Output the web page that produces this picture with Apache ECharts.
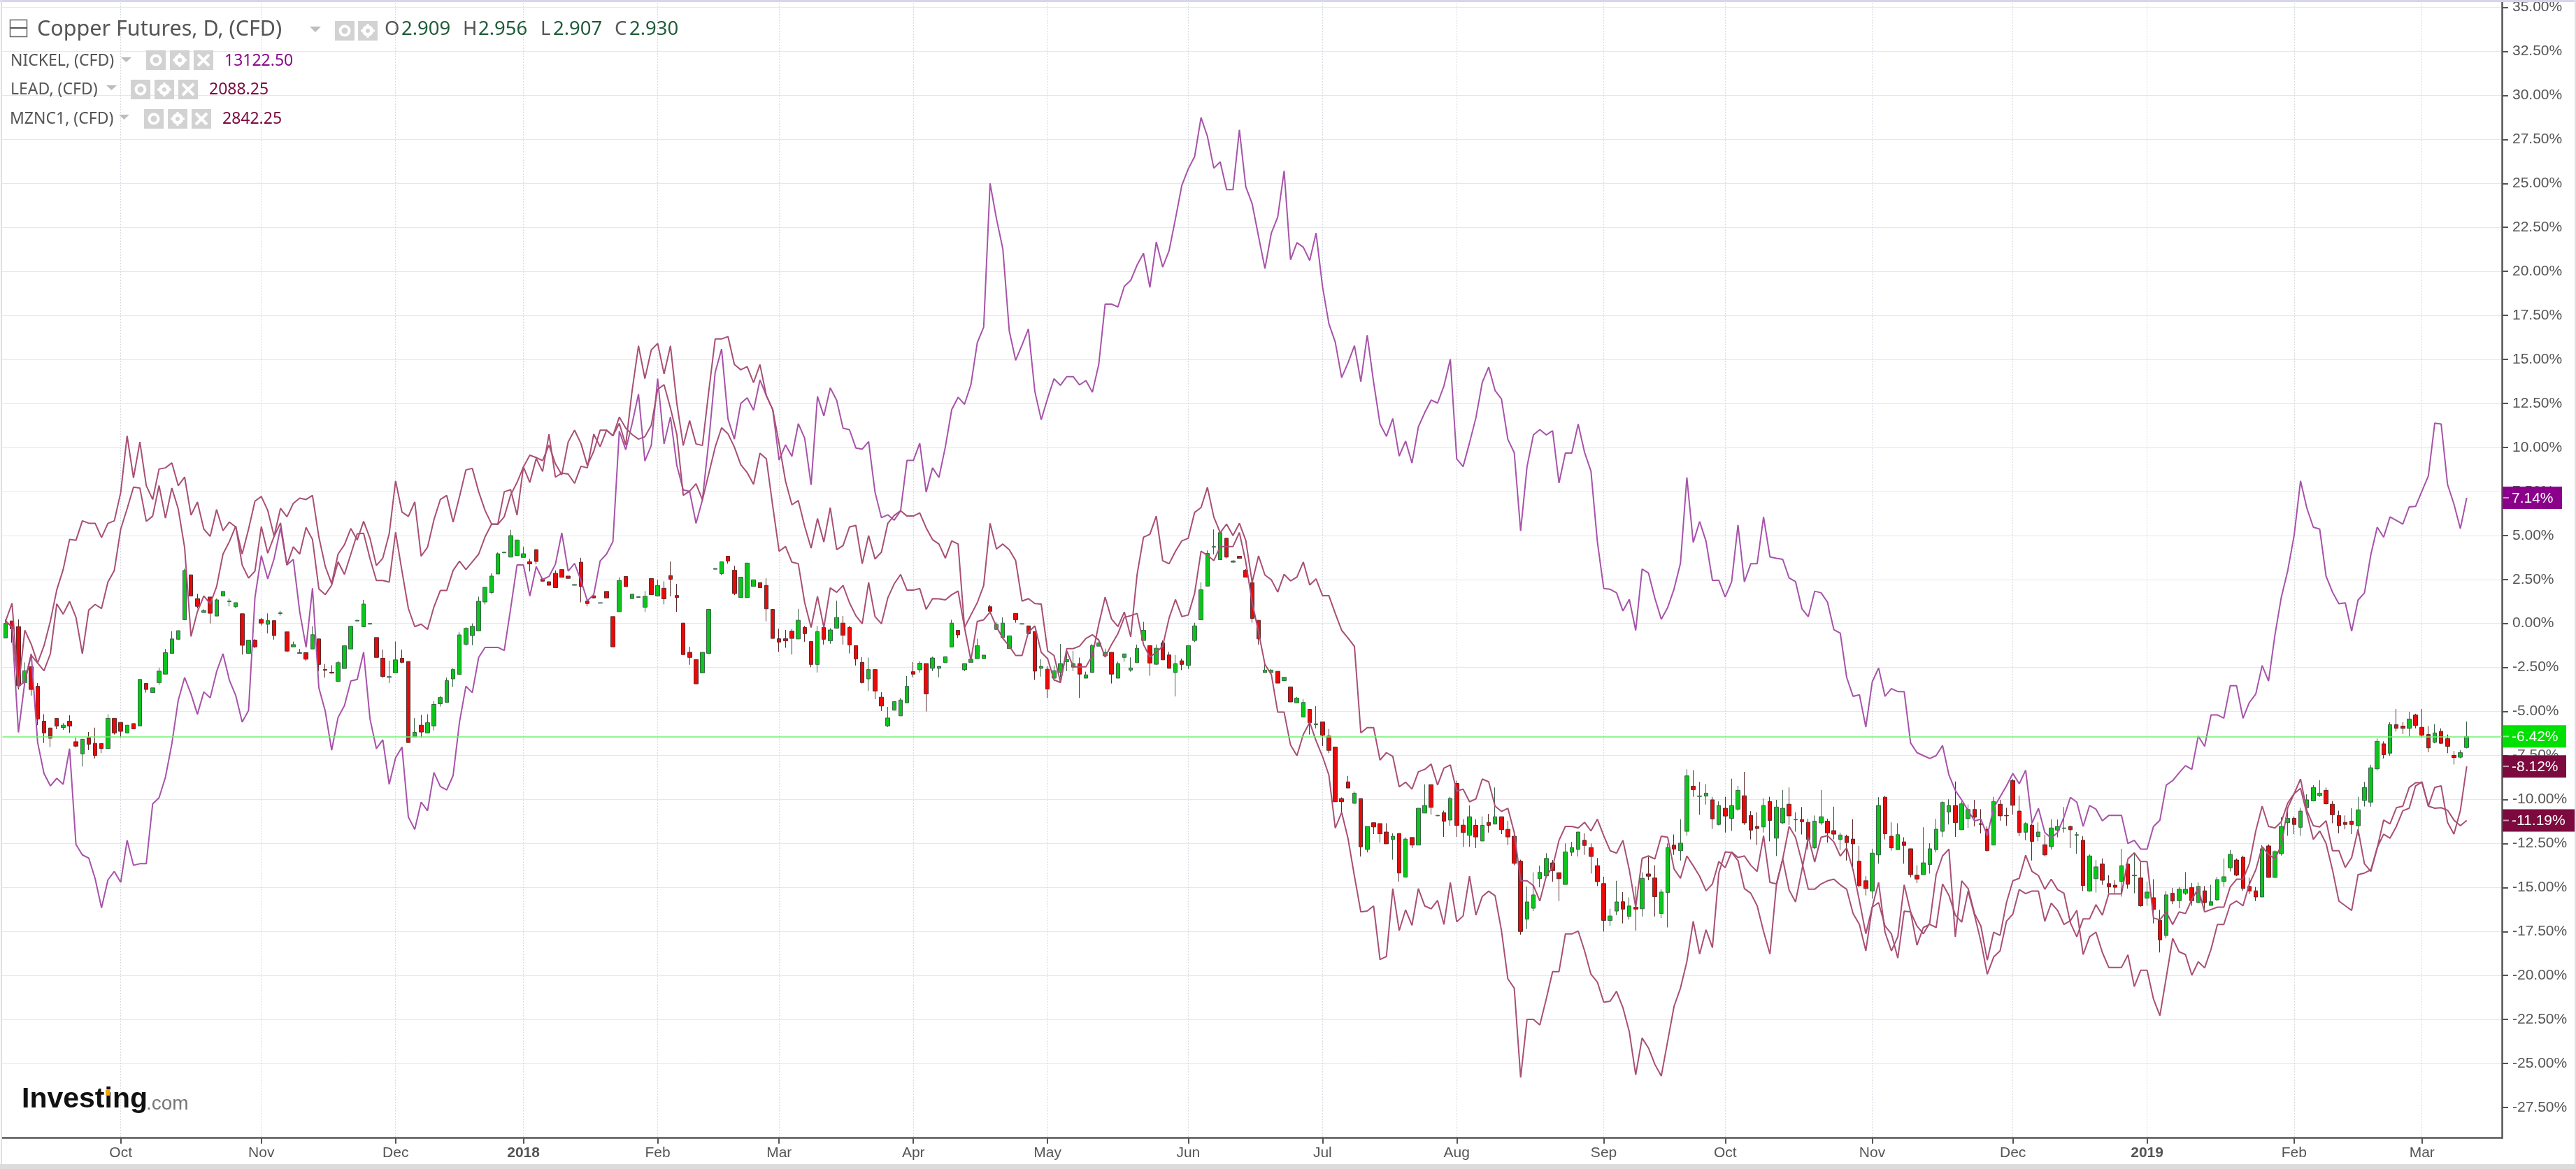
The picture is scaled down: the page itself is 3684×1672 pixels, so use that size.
<!DOCTYPE html>
<html><head><meta charset="utf-8">
<style>html,body{margin:0;padding:0;background:#fff}#c{width:3684px;height:1672px}</style>
<script src="https://cdn.jsdelivr.net/npm/echarts@6/dist/echarts.min.js"></script>
</head><body><div id="c"></div>
<script>
const monthLabels=['Oct','Nov','Dec','2018','Feb','Mar','Apr','May','Jun','Jul','Aug','Sep','Oct','Nov','Dec','2019','Feb','Mar'];
const monthBars=[18,40,61,81,102,121,142,163,185,206,227,250,269,292,314,335,358,378];
const slotCount=391;
const tickValues=[-27.5,-25,-22.5,-20,-17.5,-15,-12.5,-10,-7.5,-5,-2.5,0,2.5,5,7.5,10,12.5,15,17.5,20,22.5,25,27.5,30,32.5,35];
const lastCopper=-6.42,lastNickel=7.14,lastLead=-8.12,lastZinc=-11.19;
// each row: open, close, low, high in percent
const copper=[
[-.83,0,-.83,.23],[.14,-.30,-1.10,.14],[-.18,-3.54,-3.75,.23],[-3.36,-2.69,-3.39,-2.21],[-2.46,-3.75,-4.10,-2.46],[-3.57,-5.43,-5.78,-3.39],[-5.55,-6.22,-6.79,-5.16],[-5.94,-6.52,-7.02,-5.94],[-5.39,-5.83,-6.01,-5.39],[-5.91,-5.78,-6.05,-5.66],
[-5.55,-5.83,-6.22,-5.22],[-6.72,-6.97,-7.04,-6.49],[-7.41,-6.58,-8.13,-6.58],[-6.49,-6.86,-7.20,-6.17],[-6.81,-7.50,-7.67,-5.92],[-6.82,-7.11,-7.37,-6.82],[-7.11,-5.39,-7.11,-5.16],[-5.39,-6.22,-6.31,-5.39],[-5.62,-6.13,-6.49,-5.62],[-6.22,-5.78,-6.22,-5.78],
[-5.69,-5.99,-5.99,-5.69],[-5.82,-3.18,-5.82,-3.18],[-3.41,-3.75,-3.93,-3.41],[-3.93,-3.66,-3.93,-3.66],[-3.36,-2.71,-3.48,-2.51],[-2.88,-1.66,-2.88,-1.45],[-1.70,-.88,-1.70,-.44],[-.90,-.41,-.90,-.41],[.21,3.01,.21,3.11],[2.76,1.56,1.56,2.76],
[1.41,.97,.85,1.68],[.62,.73,.62,.81],[1.50,.58,0,1.50],[.42,1.34,.42,1.41],[1.56,1.82,1.56,1.82],[1.24,1.27,.97,1.43],[.95,1.18,.88,1.18],[.55,-1.24,-1.77,.55],[-1.70,-.95,-1.70,-.95],[-.95,-1.33,-1.40,-.88],
[.23,.02,-.12,.32],[-.05,.16,-.57,.57],[.16,-.69,-.92,.16],[.56,.60,.44,.72],[-.48,-1.57,-1.63,-.48],[-1.33,-1.20,-1.33,-1.03],[-1.70,-1.66,-1.70,-1.45],[-1.66,-2.03,-2.12,-1.66],[-1.45,-.64,-1.45,-.16],[-.88,-2.33,-2.72,-.88],
[-2.61,-2.66,-3.08,-2.30],[-2.77,-2.82,-2.85,-2.37],[-3.29,-2.23,-3.29,-2.12],[-2.56,-1.27,-2.56,-1.27],[-1.45,-.16,-1.45,-.16],[.14,.18,.14,.18],[-.19,1.10,-.19,1.34],[-.04,0,-.04,0],[-.80,-1.93,-1.93,-.80],[-1.98,-3.01,-3.08,-1.49],
[-3.06,-3.02,-3.39,-2.12],[-2.81,-2.07,-2.81,-1.03],[-1.98,-2.21,-2.26,-1.49],[-2.16,-6.77,-6.77,-2.16],[-6.45,-6.19,-6.45,-5.38],[-5.78,-6.17,-6.49,-5.20],[-6.22,-5.64,-6.22,-5.16],[-5.82,-4.60,-6.08,-4.42],[-4.56,-4.21,-4.72,-4.12],[-4.49,-3.25,-4.49,-3.08],
[-3.15,-2.62,-3.61,-2.55],[-2.90,-.65,-2.90,-.48],[-1.18,-.28,-1.27,-.21],[-.69,-.16,-1.24,0],[-.42,1.26,-.42,1.52],[1.22,2.05,1.08,2.05],[1.75,2.69,1.70,2.85],[2.81,3.96,2.81,4.03],[4.01,4.05,4.01,4.05],[3.77,4.99,3.77,5.32],
[3.85,4.74,3.85,4.74],[3.75,3.96,3.75,4.35],[3.50,3.38,2.95,3.66],[4.19,3.52,3.36,4.24],[2.53,2.40,2.40,2.53],[2.37,2.17,2.17,2.37],[2.85,2.03,2.03,3.01],[3.06,2.62,2.62,3.06],[2.69,2.56,2.56,2.69],[2.17,2.21,2.17,2.21],
[3.48,2.09,1.20,3.73],[1.27,1.13,.97,1.27],[1.57,1.45,1.45,1.57],[1.15,1.18,1.15,1.18],[1.82,1.45,1.45,1.82],[.39,-1.33,-1.33,.39],[.67,2.44,.67,2.62],[2.67,2.09,2.09,2.67],
[1.41,1.66,1.41,1.66],[1.48,1.52,1.48,1.52],[.92,1.54,.65,1.84],[2.55,1.63,1.63,2.55],[1.56,2.16,1.56,2.48],[2.00,1.40,1.08,2.39],[2.72,2.51,1.54,3.52],[1.59,1.47,.65,2.25],[.02,-1.77,-1.77,.02],[-1.64,-1.93,-2.35,-1.33],
[-2.05,-3.43,-3.43,-2.05],[-2.81,-1.64,-2.81,-1.64],[-1.70,.80,-1.70,.80],[3.08,3.12,3.08,3.12],[2.83,3.50,2.74,3.50],[3.82,3.54,3.39,3.82],[3.02,1.70,1.61,3.27],[1.47,2.63,1.47,2.63],[1.47,3.43,1.47,3.43],[2.10,2.48,2.10,2.48],
[2.32,2.03,2.03,2.32],[2.16,.83,.12,2.56],[.80,-.85,-.85,.80],[-.87,-1.06,-1.61,-.30],[-.87,-.99,-1.38,-.37],[-.44,-.85,-1.77,-.32],[-.88,.18,-.88,.83],[-.23,-.58,-1.04,-.14],[-1.03,-2.33,-2.49,-1.03],[-2.33,-.46,-2.79,-.14],
[-.23,-.90,-1.20,-.23],[-.99,-.37,-1.15,-.27],[-.27,.34,-.27,1.29],[.02,-.67,-1.20,.42],[-.23,-1.22,-1.70,-.14],[-1.26,-2.02,-2.39,-1.26],[-2.21,-3.36,-3.41,-1.91],[-3.15,-2.62,-3.84,-1.94],[-2.62,-3.84,-4.30,-2.62],[-4.19,-4.69,-4.97,-3.91],
[-5.82,-5.37,-5.89,-4.74],[-4.93,-4.44,-4.93,-4.44],[-5.25,-4.35,-5.25,-4.24],[-4.51,-3.57,-4.51,-2.99],[-2.74,-2.88,-3.06,-2.19],[-2.63,-2.26,-2.79,-2.14],[-2.28,-4.00,-5.00,-2.28],[-2.55,-1.96,-2.71,-1.89],[-2.55,-2.44,-3.06,-2.44],[-2.23,-1.89,-2.23,-1.89],
[-1.34,.02,-1.34,.21],[-.39,-.65,-.83,-.39],[-2.63,-2.28,-2.71,-2.28],[-2.21,-2.03,-2.21,-2.03],[-2.00,-1.26,-2.00,-.87],[-2.00,-1.80,-2.00,-1.80],[.95,.69,.69,1.06],[-.34,-.05,-.34,.09],[-.81,.02,-.81,.34],[-1.43,-.71,-1.43,-.71],
[.57,.21,.04,.57],[-.04,-.01,-.04,-.01],[-.14,-.58,-.58,-.14],[-.46,-2.71,-3.20,-.46],[-2.55,-2.44,-3.02,-2.03],[-2.60,-3.73,-4.23,-2.44],[-3.11,-2.69,-3.27,-2.39],[-2.78,-2.28,-3.06,-1.17],[-2.17,-2.05,-2.71,-1.52],[-2.48,-2.28,-2.71,-1.56],
[-2.28,-2.88,-4.23,-1.94],[-3.11,-2.92,-3.11,-2.74],[-2.79,-1.26,-2.79,-1.17],[-1.29,-1.11,-1.29,-.90],[-1.84,-1.64,-1.84,-1.43],[-1.64,-2.88,-3.41,-1.64],[-3.11,-2.28,-3.11,-2.17],[-1.93,-1.73,-2.17,-1.73],[-2.65,-2.53,-2.74,-1.93],[-2.23,-1.41,-2.23,-1.20],
[-.97,-.39,-.97,.09],[-1.26,-2.25,-2.97,-1.26],[-2.32,-1.41,-2.35,-1.20],[-1.10,-2.07,-2.07,-.97],[-1.79,-2.55,-2.55,-1.61],[-2.79,-2.28,-4.15,-1.79],[-2.12,-2.33,-2.65,-2.00],[-2.39,-1.26,-2.58,-1.26],[-.97,-.14,-1.06,.04],[.21,1.91,.21,2.33],
[2.12,3.98,2.12,4.15],[4.33,4.37,3.92,5.34],[3.62,5.16,3.62,5.16],[4.84,3.77,3.70,4.84],[3.48,3.55,3.45,3.60],[3.82,3.70,3.70,3.82],[3.02,2.63,2.63,3.09],[2.32,.28,.04,2.32],[.18,-.88,-1.20,.18],
[-2.79,-2.65,-2.79,-2.16],[-2.79,-2.65,-2.79,-2.58],[-2.72,-3.39,-3.39,-2.72],[-3.25,-3.06,-3.25,-3.06],[-3.61,-4.46,-4.46,-3.61],[-4.51,-4.24,-4.51,-4.17],[-5.32,-4.49,-5.32,-4.31],[-4.88,-5.64,-6.31,-4.88],[-5.75,-5.70,-5.96,-4.70],[-5.59,-6.35,-6.97,-5.59],
[-6.40,-7.21,-7.37,-5.99],[-7.02,-10.13,-10.13,-7.02],[-9.95,-10.13,-10.73,-9.88],[-9.00,-9.35,-9.35,-8.66],[-10.22,-9.64,-10.22,-9.55],[-9.95,-12.69,-13.24,-9.95],[-12.84,-11.53,-13.01,-11.53],[-11.32,-11.56,-11.97,-11.32],[-11.37,-11.95,-12.45,-11.37],[-11.85,-12.52,-12.52,-11.35],
[-12.27,-12.09,-13.42,-11.92],[-11.93,-14.18,-14.67,-11.93],[-14.41,-12.25,-14.41,-12.15],[-12.16,-12.59,-12.76,-12.16],[-12.59,-10.50,-12.59,-10.50],[-10.77,-10.34,-10.77,-9.14],[-9.16,-10.45,-10.86,-9.16],[-10.93,-10.90,-10.93,-10.90],[-10.75,-11.24,-12.13,-10.64],[-11.17,-9.94,-11.49,-9.85],
[-9.09,-11.47,-12.13,-8.93],[-11.46,-11.88,-12.69,-11.12],[-12.04,-10.98,-12.69,-10.34],[-11.47,-12.13,-12.76,-11.12],[-12.36,-11.47,-12.36,-10.96],[-11.30,-11.47,-11.88,-10.82],[-11.40,-10.98,-11.40,-9.32],[-10.98,-11.72,-11.97,-10.98],[-11.70,-12.13,-12.59,-11.21],[-12.09,-13.63,-13.74,-11.79],
[-13.51,-17.50,-17.68,-13.42],[-16.80,-15.82,-17.36,-14.94],[-16.18,-15.42,-16.34,-14.14],[-14.50,-14.14,-14.99,-13.76],[-14.34,-13.35,-14.44,-13.05],[-13.60,-14.04,-14.67,-13.44],[-14.16,-14.50,-15.77,-14.16],[-14.83,-12.98,-14.83,-12.50],[-13.00,-12.73,-13.21,-12.41],[-12.84,-11.85,-13.24,-11.85],
[-12.32,-12.61,-13.15,-11.92],[-12.73,-13.24,-14.21,-12.50],[-13.76,-14.67,-14.92,-13.33],[-14.78,-16.87,-17.50,-14.39],[-16.87,-16.62,-17.19,-16.21],[-16.34,-15.82,-16.57,-14.62],[-15.81,-16.23,-17.04,-15.26],[-16.64,-16.05,-16.83,-15.56],[-16.12,-16.23,-17.45,-14.94],[-16.21,-14.48,-16.65,-14.14],
[-14.23,-14.36,-14.59,-13.26],[-14.46,-15.52,-16.65,-13.74],[-16.48,-15.26,-16.74,-15.10],[-15.29,-12.73,-17.27,-12.50],[-12.59,-12.82,-13.15,-11.99],[-12.91,-12.48,-13.47,-11.12],[-11.81,-8.66,-12.06,-8.29],[-9.25,-9.44,-9.85,-8.34],[-9.83,-9.80,-10.87,-9.00],[-9.81,-9.64,-10.29,-9.14],
[-10.02,-11.10,-11.67,-9.85],[-11.42,-10.34,-11.47,-10.11],[-10.50,-10.94,-11.88,-9.85],[-11.08,-10.34,-11.79,-8.82],[-10.55,-9.48,-10.64,-9.23],[-9.79,-11.33,-11.44,-8.43],[-10.91,-11.74,-12.27,-10.66],[-11.53,-11.65,-12.59,-10.73],[-11.56,-10.34,-11.88,-9.94],[-10.11,-11.19,-12.38,-9.85],
[-12.20,-10.43,-13.21,-10.02],[-11.33,-10.50,-11.39,-9.46],[-10.27,-10.93,-11.44,-9.32],[-11.16,-11.13,-11.83,-10.73],[-11.14,-11.26,-11.99,-10.43],[-11.30,-12.27,-12.85,-11.09],[-12.75,-11.23,-12.82,-10.91],[-11.33,-10.98,-11.44,-9.46],[-11.23,-11.90,-12.45,-11.09],[-11.77,-11.97,-12.27,-10.41],
[-12.27,-12.02,-12.87,-11.88],[-12.09,-12.45,-13.47,-12.00],[-12.25,-12.52,-14.04,-11.12],[-13.51,-14.90,-14.99,-12.64],[-14.62,-15.06,-15.45,-14.36],[-15.20,-13.05,-15.63,-12.80],[-13.15,-10.34,-13.65,-9.87],[-9.87,-11.95,-12.27,-9.79],
[-12.09,-12.75,-12.91,-11.30],[-12.85,-12.00,-12.85,-11.35],[-12.41,-12.61,-13.65,-12.15],[-12.80,-14.27,-14.43,-12.80],[-14.30,-14.52,-14.75,-13.74],[-14.27,-13.60,-14.27,-11.58],[-13.70,-12.80,-14.21,-12.48],[-12.85,-11.69,-13.01,-11.10],[-11.81,-10.17,-12.13,-10.11],[-10.71,-10.34,-11.42,-9.99],
[-10.34,-11.32,-12.13,-8.98],[-11.72,-10.25,-11.72,-10.11],[-11.09,-10.57,-11.62,-10.29],[-10.57,-11.01,-11.53,-10.02],[-11.37,-11.42,-11.93,-10.55],[-11.69,-12.91,-12.94,-11.53],[-12.59,-10.11,-12.59,-9.85],[-10.27,-10.93,-11.21,-10.02],[-10.91,-10.93,-11.49,-10.47],[-8.93,-10.33,-10.86,-8.84],
[-10.66,-11.88,-12.09,-9.78],[-11.86,-11.37,-12.31,-11.30],[-11.46,-12.38,-13.47,-11.37],[-12.11,-11.85,-12.38,-11.30],[-12.57,-13.15,-13.23,-12.00],[-12.68,-11.62,-12.85,-11.12],[-11.74,-11.53,-12.15,-11.14],[-11.65,-11.62,-11.88,-10.43],[-11.53,-11.72,-12.76,-11.49],[-12.04,-12.00,-13.08,-11.85],
[-12.32,-14.89,-15.20,-12.09],[-15.20,-13.21,-15.24,-13.12],[-14.50,-13.83,-15.29,-13.44],[-13.67,-14.59,-14.85,-13.35],[-14.78,-14.97,-15.33,-14.30],[-14.87,-14.99,-15.33,-14.59],[-14.66,-13.76,-15.52,-12.80],[-13.67,-14.82,-15.06,-13.56],[-14.34,-14.30,-15.33,-13.05],[-14.46,-16.04,-16.09,-13.56],
[-15.61,-15.26,-16.04,-14.67],[-15.58,-16.25,-17.04,-14.53],[-16.87,-17.98,-18.69,-16.27],[-17.73,-15.42,-17.89,-15.20],[-15.33,-15.77,-15.95,-15.03],[-15.75,-15.10,-16.18,-14.98],[-15.33,-15.10,-15.42,-14.13],[-15.01,-15.75,-16.04,-14.74],[-15.86,-14.94,-15.86,-14.71],[-15.19,-15.86,-16.39,-14.92],
[-16.02,-15.81,-16.02,-14.85],[-15.70,-14.55,-15.77,-14.39],[-14.66,-14.39,-14.97,-13.35],[-13.88,-13.12,-14.09,-12.87],[-13.44,-14.30,-14.36,-13.35],[-13.28,-15.06,-15.20,-13.19],[-14.94,-15.20,-15.38,-14.44],[-15.19,-15.54,-15.77,-14.97],[-15.54,-12.80,-15.54,-12.59],[-12.64,-14.43,-14.43,-12.55],
[-14.43,-12.96,-14.43,-12.89],[-13.08,-11.53,-13.19,-11.00],[-11.32,-11.07,-12.06,-10.64],[-11.07,-11.42,-11.97,-10.96],[-11.58,-10.66,-12.06,-10.47],[-10.47,-10.02,-10.54,-9.71],[-10.08,-9.32,-10.11,-9.18],[-9.78,-9.64,-9.85,-8.91],[-9.48,-10.24,-10.29,-9.32],[-10.27,-10.87,-11.35,-10.09],
[-10.91,-11.49,-11.92,-10.64],[-11.30,-11.42,-11.70,-10.91],[-11.23,-11.42,-11.97,-10.50],[-11.49,-10.59,-12.06,-9.85],[-10.06,-9.32,-10.40,-9.00],[-10.15,-8.20,-10.41,-8.03],[-8.26,-6.70,-8.35,-6.54],[-6.84,-7.46,-7.67,-6.70],[-7.37,-5.75,-7.53,-5.61],[-5.75,-5.96,-6.14,-4.86],
[-5.83,-5.96,-6.28,-5.61],[-5.96,-5.43,-6.43,-5.02],[-5.20,-5.80,-5.96,-5.13],[-5.90,-6.35,-6.49,-4.86],[-6.31,-7.07,-7.32,-5.83],[-6.75,-6.22,-6.81,-5.73],[-6.13,-6.81,-6.84,-5.96],[-6.54,-6.98,-7.37,-6.31],[-7.50,-7.62,-8.01,-7.25],[-7.60,-7.34,-7.66,-7.20],
[-7.05,-6.42,-7.10,-5.57]];
const nickel=[
.14,-.21,-6.19,-3.31,-1.72,-6.75,-8.52,-9.23,-8.80,-9.14,
-7.11,-12.55,-13.15,-13.33,-14.50,-16.16,-14.57,-14.09,-14.71,-12.32,
-13.74,-13.65,-13.65,-10.25,-9.90,-8.73,-6.84,-4.37,-3.07,-4.01,
-5.16,-3.89,-4.22,-2.74,-1.72,-3.22,-4.10,-5.60,-4.95,1.47,
3.85,2.53,3.68,5.44,3.32,3.64,.67,-1.36,2.00,-3.66,
-4.99,-7.20,-5.34,-4.67,-3.27,-3.18,-1.63,-5.43,-7.11,-6.61,
-9.14,-7.64,-7.02,-11.00,-11.70,-10.15,-10.64,-8.47,-9.26,-9.46,
-8.64,-5.60,-3.57,-3.93,-1.93,-1.36,-1.36,-1.36,-1.54,.85,
3.32,3.32,1.56,3.23,2.49,2.67,3.36,5.14,2.97,3.41,
2.44,1.29,1.64,3.55,3.94,4.65,10.93,9.87,
11.35,13.03,9.23,10.11,13.91,10.20,11.74,8.96,7.58,7.51,5.69,7.02,10.38,14.27,15.59,11.62,10.47,12.50,12.82,12.11,13.83,12.94,
12.15,9.28,10.15,9.49,11.35,10.52,7.87,12.89,11.79,13.38,12.68,11.09,11.01,9.97,9.90,10.33,7.46,6.01,6.17,5.87,
6.40,9.26,9.26,10.24,7.46,8.84,8.29,10.02,12.15,12.85,12.45,13.56,15.95,16.83,
25.0,22.99,21.27,16.62,14.95,15.82,16.73,13.19,11.57,12.79,13.90,13.53,14.02,14.02,13.55,13.80,13.13,14.71,18.14,18.14,
17.98,19.15,19.49,20.36,21.03,19.09,21.67,20.24,21.17,22.99,24.89,25.82,26.52,28.74,27.67,25.86,26.22,24.64,24.64,28.04,
24.81,23.84,21.98,20.16,22.18,23.09,25.71,20.66,21.63,21.37,20.62,22.18,19.15,17.03,15.98,13.96,14.81,15.78,13.74,16.38,
13.70,11.33,10.63,11.64,9.51,10.36,9.11,11.17,11.98,12.69,12.52,13.49,15.01,9.35,8.91,10.26,11.68,13.70,14.56,13.23,
12.75,10.46,9.70,5.25,8.91,10.71,11.01,10.71,10.95,7.98,9.68,9.68,11.33,9.72,8.65,4.65,1.98,1.94,1.74,.71,1.37,-.40,
3.09,2.86,1.43,.24,.90,1.96,3.41,8.30,4.60,5.79,4.67,2.45,2.45,1.50,2.36,5.59,2.36,3.39,3.39,6.05,
3.78,3.70,3.64,2.58,2.38,.84,.38,1.83,1.74,1.21,-.35,-.55,-3.06,-4.14,-4.05,-5.89,-3.32,-2.53,-4.14,
-3.70,-3.87,-3.87,-6.79,-7.34,-7.51,-7.67,-7.51,-6.93,-8.61,-9.49,-10.03,-10.64,-11.21,-11.12,-12.06,-10.47,-9.85,-9.23,-8.52,
-9.11,-8.34,-11.35,-10.50,-11.88,-12.20,-11.88,-11.00,-9.88,-10.15,-11.53,-10.34,-10.55,-11.21,-10.91,-10.91,-10.91,-12.50,-12.32,-12.82,
-12.82,-11.53,-11.18,-9.18,-8.93,-8.49,-8.08,-8.29,-6.40,-6.98,-5.20,-5.20,-5.38,-3.54,-3.54,-5.39,-4.49,-4.01,-2.39,-3.27,
-.65,1.5,3.0,5.0,8.1,6.54,5.47,5.36,2.68,1.78,1.12,1.17,-.44,1.33,1.73,3.91,5.47,4.90,6.05,5.85,
5.64,6.62,6.65,7.52,8.38,11.38,11.33,7.90,6.78,5.39,7.14];
const lead=[
.14,1.15,-3.57,-3.31,-1.80,-2.25,-1.27,.14,1.91,3.06,
4.77,4.72,5.83,5.69,5.69,4.88,5.68,5.83,7.44,10.66,
8.27,10.31,7.83,7.04,8.77,8.84,9.12,7.83,8.31,6.15,
6.90,5.36,4.95,6.47,5.27,5.76,5.48,3.94,5.36,6.95,
7.21,6.42,4.95,6.54,6.06,6.82,7.12,7.04,7.27,4.91,
3.24,2.26,3.94,4.47,5.39,4.74,5.80,4.83,3.29,3.71,
5.09,8.10,6.33,6.08,6.90,3.82,4.33,5.89,7.04,7.27,
5.76,7.21,8.72,8.81,7.48,6.42,5.66,5.63,6.06,7.30,
8.01,8.89,8.01,9.37,8.63,10.75,8.31,8.54,8.49,7.96,
8.93,8.84,10.75,10.04,10.98,10.66,11.37,10.13,
13.21,15.77,13.91,15.54,15.91,14.18,15.77,12.50,10.11,11.53,10.20,10.11,13.21,16.16,16.16,16.30,14.71,14.41,14.59,13.68,14.71,12.94,
12.15,10.20,8.08,6.74,6.98,5.52,4.28,5.96,4.63,6.58,4.19,4.42,5.48,5.57,3.39,4.99,3.66,4.05,5.69,6.13,
6.40,6.10,6.10,6.28,5.43,4.76,4.51,3.71,4.69,4.51,-.23,.48,1.18,2.16,5.69,4.23,4.51,4.19,3.57,1.27,
1.41,1.13,1.10,-1.56,-1.82,-3.32,-1.56,-2.46,-2.46,-2.46,-1.82,-.05,1.50,.25,-.18,.65,-.76,2.78,4.90,5.07,
6.10,3.57,3.39,4.10,4.69,4.84,6.31,6.58,7.73,6.05,5.16,5.64,4.99,5.69,4.72,2.33,3.84,
2.75,2.48,1.78,2.79,2.42,2.63,3.49,2.18,2.53,1.58,1.58,.57,-.39,-.83,-1.31,-6.22,-5.92,-5.92,-7.76,-7.34,
-7.55,-9.28,-9.02,-9.41,-8.43,-8.29,-7.99,-9.18,-8.22,-8.04,-9.53,-9.41,-10.13,-9.97,-8.84,-9.00,-10.38,-10.68,-10.50,-11.88,
-14.62,-14.62,-14.89,-15.77,-14.36,-13.83,-12.32,-11.53,-11.53,-11.62,-11.30,-11.79,-11.12,-12.06,-12.91,-13.05,-12.32,-14.00,-16.12,-13.35,
-13.21,-13.38,-12.09,-12.15,-13.95,-14.48,-13.21,-13.77,-14.36,-15.19,-14.80,-13.53,-13.88,-12.98,-13.30,-13.21,-13.74,-14.09,-12.06,-14.71,
-14.80,-13.38,-11.53,-12.15,-13.56,-15.10,-15.10,-14.80,-14.62,-14.53,-14.85,-15.10,-16.48,-17.10,-18.60,-16.12,-15.86,-17.19,
-17.63,-19.01,-16.35,-16.39,-17.19,-17.63,-17.01,-14.27,-13.21,-12.82,-17.80,-14.62,-15.06,-16.48,-17.19,-19.13,-17.54,-17.72,-15.86,-14.62,
-14.48,-13.17,-14.09,-14.32,-15.10,-14.53,-15.12,-15.33,-17.01,-17.80,-16.78,-16.78,-15.98,-16.57,-15.36,-15.36,-15.36,-13.38,-13.03,-13.53,
-13.53,-16.74,-16.83,-16.39,-17.10,-16.39,-16.48,-15.68,-15.06,-16.39,-16.25,-16.12,-16.12,-14.97,-14.53,-14.53,-13.65,-11.79,-10.38,-11.53,
-11.62,-11.26,-10.20,-9.67,-8.84,-10.64,-11.49,-11.56,-11.21,-12.91,-12.91,-13.86,-13.30,-11.70,-13.65,-14.09,-12.76,-11.17,-11.39,-10.47,
-10.38,-9.32,-9.05,-9.05,-10.38,-9.32,-9.23,-11.30,-11.97,-10.64,-8.12];
const zinc=[
.14,-.21,-3.66,-.39,-1.18,-2.25,-2.69,-1.72,1.11,.53,
1.25,.35,-1.72,.76,1.08,.85,2.35,3.01,5.36,6.51,
7.74,7.69,5.80,6.10,7.83,5.98,7.69,6.51,4.30,-.74,
.67,1.56,1.11,2.09,3.94,4.65,5.53,3.32,2.58,2.97,
5.50,3.99,4.95,5.71,3.32,4.35,3.94,5.45,4.77,1.96,
1.64,2.17,3.50,2.79,3.94,5.09,5.12,3.68,2.44,2.44,
2.35,5.18,2.97,.85,-.18,-.04,-.34,.94,1.87,1.87,
3.01,3.54,3.06,3.50,3.94,4.92,5.63,5.66,7.48,7.60,
6.15,8.89,9.56,9.42,9.25,10.13,9.07,8.45,10.31,10.98,
10.22,8.98,9.78,10.98,10.98,10.66,11.72,11.10,
10.73,10.47,10.61,11.26,13.30,13.56,12.23,10.73,7.28,7.51,7.94,7.02,8.52,10.02,11.12,10.77,10.02,9.02,8.57,7.90,9.67,9.35,
6.67,4.10,4.37,3.48,3.39,1.18,-.23,1.54,-.23,2.02,1.77,2.16,1.18,.44,-.02,2.33,.39,-.02,1.45,2.25,
2.78,1.89,1.89,1.98,.80,1.41,1.40,1.34,1.63,1.84,-.23,-2.09,.12,.21,.65,-.19,-.85,-1.29,-1.82,-1.82,
-.50,-.14,-1.64,-2.00,-3.20,-3.36,-1.43,-1.43,-1.29,-.85,-.64,-.94,-1.91,-1.20,-.58,.35,.44,.57,-1.20,-1.91,
-1.64,-1.29,.30,1.36,.39,.48,1.71,4.10,3.87,3.57,4.37,4.37,4.37,5.16,3.50,1.20,-.50,
-2.33,-2.90,-5.04,-5.04,-6.90,-7.51,-6.31,-5.62,-6.67,-7.55,-8.61,-11.63,-10.73,-12.23,-14.36,-16.39,-16.34,-16.05,-19.09,-18.92,
-15.06,-17.45,-16.27,-17.15,-15.06,-16.05,-16.21,-15.74,-17.10,-14.71,-16.95,-16.62,-14.36,-16.57,-15.51,-15.21,-15.47,-17.45,-20.19,-20.72,
-25.80,-22.49,-22.49,-22.81,-21.34,-19.78,-19.78,-17.64,-17.64,-17.47,-18.60,-19.93,-20.37,-21.52,-21.46,-20.90,-21.83,-23.20,-25.64,-23.55,
-24.12,-25.05,-25.71,-23.73,-21.75,-20.72,-19.22,-16.92,-18.78,-17.40,-18.42,-14.18,-12.98,-13.01,-13.47,-15.06,-15.33,-16.04,-17.50,-18.78,
-14.89,-13.38,-15.15,-15.82,-14.00,-12.15,-13.56,-12.15,-12.06,-12.41,-13.21,-12.76,-14.00,-15.77,-17.63,-16.12,-14.71,-17.54,
-18.60,-17.80,-14.85,-16.39,-18.28,-17.27,-17.10,-17.27,-14.80,-15.45,-16.57,-16.97,-15.20,-16.57,-18.07,-19.93,-18.95,-18.60,-16.92,-16.51,
-15.12,-15.35,-15.20,-15.20,-16.92,-15.89,-16.30,-17.10,-16.89,-16.30,-18.81,-17.80,-17.54,-18.69,-19.54,-19.54,-19.54,-18.83,-20.63,-19.70,
-19.70,-21.34,-22.28,-20.10,-17.89,-18.65,-18.81,-19.98,-19.22,-19.57,-18.51,-17.10,-17.10,-15.98,-15.77,-16.04,-14.80,-14.00,-12.68,-13.12,
-13.38,-12.59,-10.47,-9.67,-9.37,-10.82,-12.27,-11.79,-12.50,-14.00,-15.77,-16.04,-16.30,-14.27,-14.18,-14.00,-12.73,-11.97,-12.20,-11.53,
-10.64,-10.50,-9.23,-9.00,-10.38,-10.50,-10.47,-10.61,-11.17,-11.49,-11.19];

const slots=[];for(let i=0;i<slotCount;i++){const k=monthBars.indexOf(i);slots.push(k>=0?monthLabels[k]:'');}
const isMonth=(i)=>monthBars.indexOf(i)>=0;
const AXC='#555555',FONT='"Liberation Sans",Arial,sans-serif',LF='"Noto Sans",sans-serif';
const gridLeft=3.5,gridWidth=3574.5;
const chart=echarts.init(document.getElementById('c'),null,{renderer:'canvas'});
const lineSeries=(name,data,color)=>({name,type:'line',data,xAxisIndex:0,yAxisIndex:0,showSymbol:false,symbol:'none',smooth:false,lineStyle:{color,width:2},itemStyle:{color},silent:true,z:4});
chart.setOption({
animation:false,backgroundColor:'#fff',
grid:[{left:gridLeft,width:gridWidth,top:5.75,height:1641.25,containLabel:false},{left:gridLeft,width:gridWidth,top:0,height:1627.7,containLabel:false}],
xAxis:[
{type:'category',gridIndex:0,data:slots,show:false,boundaryGap:true},
{type:'category',gridIndex:1,data:slots,boundaryGap:true,position:'bottom',
 axisLine:{show:true,onZero:false,lineStyle:{color:AXC,width:2.5}},
 axisTick:{show:true,alignWithLabel:true,length:8,lineStyle:{color:AXC,width:2},interval:(i)=>isMonth(i)},
 axisLabel:{show:true,interval:0,margin:11,fontFamily:FONT,fontSize:21,color:AXC,formatter:(v)=>/^\d{4}$/.test(v)?'{b|'+v+'}':v,rich:{b:{fontFamily:FONT,fontSize:21,fontWeight:'bold',color:AXC}}},
 splitLine:{show:true,alignWithLabel:true,interval:(i)=>isMonth(i),lineStyle:{color:'#d6dae3',width:1,type:[2,2]}}}
],
yAxis:[
{type:'value',gridIndex:0,position:'right',min:-30,max:35,interval:2.5,
 axisLine:{show:false},
 axisTick:{show:true,length:9,customValues:tickValues,lineStyle:{color:AXC,width:2}},
 axisLabel:{show:true,margin:15,customValues:tickValues,fontFamily:FONT,fontSize:21,color:AXC,formatter:(v)=>v.toFixed(2)+'%'},
 splitLine:{show:true,showMinLine:false,lineStyle:{color:'#cfccd0',width:1,type:[1,1]}}},
{type:'value',gridIndex:1,position:'right',min:-29.235,max:35.228,
 axisLine:{show:true,onZero:false,lineStyle:{color:AXC,width:2.5}},axisTick:{show:false},axisLabel:{show:false},splitLine:{show:false}}
],
series:[
{name:'Copper',type:'candlestick',data:copper,xAxisIndex:0,yAxisIndex:0,barWidth:6,silent:true,z:3,
 itemStyle:{color:'#0cc41c',color0:'#e80a0a',borderColor:'#3c6148',borderColor0:'#5c2a2a',borderWidth:1},
 markLine:{silent:true,symbol:'none',animation:false,label:{show:false},lineStyle:{color:'#6ff06f',width:1.5,type:'solid'},data:[{yAxis:lastCopper}]}},
lineSeries('Nickel',nickel,'#a753a9'),
lineSeries('Lead',lead,'#a84f75'),
lineSeries('Zinc',zinc,'#a84f75')
]});

function box(x,y){return {type:'rect',shape:{x,y,width:28,height:28},style:{fill:'#d2d2d2'},z:50,silent:true};}
function eye(x,y){return [box(x,y),{type:'circle',shape:{cx:x+14,cy:y+14,r:6.5},style:{fill:'none',stroke:'#fff',lineWidth:4},z:51,silent:true}];}
function gear(x,y){return [box(x,y),{type:'circle',shape:{cx:x+14,cy:y+14,r:5.5},style:{fill:'none',stroke:'#fff',lineWidth:5},z:51,silent:true},{type:'line',shape:{x1:x+14,y1:y+4,x2:x+14,y2:y+24},style:{stroke:'#fff',lineWidth:3,lineDash:[3,14]},z:51,silent:true},{type:'line',shape:{x1:x+4,y1:y+14,x2:x+24,y2:y+14},style:{stroke:'#fff',lineWidth:3,lineDash:[3,14]},z:51,silent:true}];}
function cross(x,y){return [box(x,y),{type:'line',shape:{x1:x+6,y1:y+6,x2:x+22,y2:y+22},style:{stroke:'#fff',lineWidth:4},z:51,silent:true},{type:'line',shape:{x1:x+22,y1:y+6,x2:x+6,y2:y+22},style:{stroke:'#fff',lineWidth:4},z:51,silent:true}];}
function tri(x,y,w,h){return {type:'polygon',shape:{points:[[x,y],[x+w,y],[x+w/2,y+h]]},style:{fill:'#bdbdbd'},z:50,silent:true};}
function txt(s,x,y,size,fill,family,z){return {type:'text',x,y,style:{text:s,fill,font:'normal '+size+'px '+(family||LF),textAlign:'left',textVerticalAlign:'middle'},z:z||52,silent:true};}
function tag(v,label,right,bg){const y=chart.convertToPixel({gridIndex:0},[0,v])[1];return [
 {type:'rect',shape:{x:3579,y:y-16,width:right-3579,height:32},style:{fill:bg},z:60,silent:true},
 {type:'line',shape:{x1:3580,y1:y,x2:3588,y2:y},style:{stroke:'rgba(255,255,255,.6)',lineWidth:2},z:61,silent:true},
 txt(label,3592,y+1,21,'#fff',FONT,62)];}
const OC='#1f5c3a',GC='#555555';
chart.setOption({graphic:[
 {type:'rect',shape:{x:0,y:0,width:3684,height:3},style:{fill:'#d6d6ea'},z:40,silent:true},
 {type:'rect',shape:{x:1,y:0,width:2,height:1665},style:{fill:'#dde0ea'},z:40,silent:true},
 {type:'rect',shape:{x:0,y:1665,width:3684,height:7},style:{fill:'#dcdcdc'},z:40,silent:true},
 {type:'rect',shape:{x:3682,y:0,width:2,height:1665},style:{fill:'#dde0ea'},z:40,silent:true},
 {type:'rect',shape:{x:14.5,y:28.5,width:24,height:24},style:{fill:'#fff',stroke:'#666',lineWidth:1.5},z:50,silent:true},
 {type:'line',shape:{x1:15,y1:40,x2:38,y2:40},style:{stroke:'#555',lineWidth:2},z:51,silent:true},
 txt('Copper Futures, D, (CFD)',53,42,30.5,GC),
 tri(443,38,16,8),...eye(479,30),...gear(512,30),
 txt('O',550,42,27.5,GC),txt('2.909',574,42,27.5,OC),
 txt('H',662,42,27.5,GC),txt('2.956',684,42,27.5,OC),
 txt('L',773,42,27.5,GC),txt('2.907',791,42,27.5,OC),
 txt('C',879,42,27.5,GC),txt('2.930',900,42,27.5,OC),
 txt('NICKEL, (CFD)',15,87,23,GC),tri(173,82,15,7),...eye(209,72),...gear(243,72),...cross(277,72),txt('13122.50',321,87,23,'#8b0a8b'),
 txt('LEAD, (CFD)',15,128,23,GC),tri(152,122,15,7),...eye(187,114),...gear(221,114),...cross(255,114),txt('2088.25',299,128,23,'#7c0a3e'),
 txt('MZNC1, (CFD)',14,170,23,GC),tri(170,164,15,7),...eye(206,156),...gear(240,156),...cross(274,156),txt('2842.25',318,170,23,'#7c0a3e'),
 {type:'text',x:31,y:1593,style:{text:'Investing',fill:'#111',font:'bold 41px '+FONT,textAlign:'left',textVerticalAlign:'bottom'},z:52,silent:true},
 {type:'text',x:209,y:1593,style:{text:'.com',fill:'#777',font:'normal 28px '+FONT,textAlign:'left',textVerticalAlign:'bottom'},z:52,silent:true},
 {type:'rect',shape:{x:151,y:1559,width:6,height:8},style:{fill:'#f7a600'},z:53,silent:true},
 ...tag(lastNickel,'7.14%',3664,'#8b008b'),
 ...tag(lastCopper,'-6.42%',3670,'#00e000'),
 ...tag(lastLead,'-8.12%',3670,'#7c0a3e'),
 ...tag(lastZinc,'-11.19%',3682,'#7c0a3e')
]});
</script></body></html>
